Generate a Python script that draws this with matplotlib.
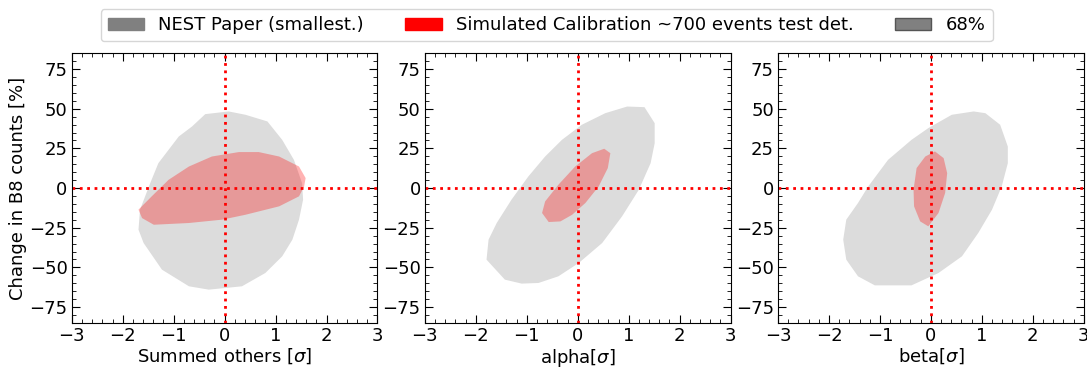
import matplotlib.pyplot as plt
from matplotlib.patches import Patch
from matplotlib.ticker import AutoMinorLocator

XLABELS = ["Summed others [$\\sigma$]", "alpha[$\\sigma$]", "beta[$\\sigma$]"]
YLABEL = "Change in B8 counts [%]"
LEGEND_LABELS = ["NEST Paper (smallest.)", "Simulated Calibration ~700 events test det.", "68%"]

# 68% contours, NEST paper (grey)
nest_x = [
    [-0.38, 0.08, 0.41, 0.84, 1.13, 1.36, 1.52, 1.54, 1.46, 1.33, 1.13, 0.8, 0.34,
     -0.31, -0.7, -1.23, -1.59, -1.69, -1.66, -1.46, -1.3, -0.9, -0.64],
    [0.97, 1.31, 1.51, 1.51, 1.43, 1.2, 0.87, 0.48, 0.02, -0.38, -0.77, -1.1, -1.43,
     -1.79, -1.75, -1.59, -1.3, -0.97, -0.64, -0.31, 0.08, 0.54],
    [0.41, 0.84, 1.07, 1.36, 1.51, 1.51, 1.39, 1.2, 0.93, 0.61, 0.15, -0.38, -1.1,
     -1.43, -1.66, -1.72, -1.66, -1.43, -1.23, -0.84, -0.38, -0.05],
]
nest_y = [
    [46.6, 48.3, 46.2, 42, 30.4, 17.8, 3.1, -7.3, -19.9, -32.5, -43, -53.5, -61.9,
     -64, -61.9, -51.4, -34.6, -26.2, -13.6, 3.1, 15.7, 32.5, 38.8],
    [51.4, 51, 40.9, 28.3, 15.7, -1, -17.8, -34.6, -47.2, -55.6, -59.8, -60.2, -57.7,
     -45.1, -32.5, -22, -7.3, 7.3, 19.9, 30.4, 39.9, 47.2],
    [46.2, 48.3, 47.2, 39.9, 26.2, 15.7, 1, -13.6, -28.3, -43, -53.5, -61.3, -61.3,
     -55.6, -45.1, -32.5, -19.9, -9.4, 1, 17.8, 30.4, 37.8],
]

# 68% contours, simulated calibration (red)
sim_x = [
    [-1.69, -1.43, -1.1, -0.7, -0.25, 0.28, 0.67, 1.07, 1.46, 1.59, 1.56, 1.46, 1.07,
     0.41, -0.05, -0.7, -1.39, -1.62],
    [0.52, 0.64, 0.59, 0.41, 0.15, -0.11, -0.34, -0.57, -0.7, -0.64, -0.38, -0.05, 0.28],
    [0.08, 0.25, 0.32, 0.28, 0.15, -0.05, -0.21, -0.33, -0.34, -0.28, -0.11],
]
sim_y = [
    [-13.6, -5.2, 5.2, 13.6, 19.9, 22.7, 22.7, 19.9, 13.6, 6.3, 1, -5.2, -11.5,
     -16.8, -19.9, -22, -23.1, -18.9],
    [24.8, 22, 12.6, 1, -9.4, -16.8, -21, -21.4, -15.7, -8.4, 2.1, 13.6, 22],
    [23.1, 18.9, 9.4, -3.1, -15.7, -24.1, -21, -11.5, -1, 12.6, 19.9],
]

plt.rcParams["font.size"] = 13

fig, axes = plt.subplots(1, 3, figsize=(10.87, 3.67), dpi=100)
fig.subplots_adjust(left=0.066, right=0.997, bottom=0.12, top=0.855, wspace=0.155)

for i, ax in enumerate(axes):
    ax.fill(nest_x[i], nest_y[i], color="#dcdcdc", lw=0)
    ax.fill(sim_x[i], sim_y[i], color="red", alpha=0.3, lw=0)
    ax.axvline(0, color="red", ls=":", lw=2)
    ax.axhline(0, color="red", ls=":", lw=2)
    ax.set_xlim(-3, 3)
    ax.set_ylim(-85, 85)
    ax.set_xticks([-3, -2, -1, 0, 1, 2, 3])
    ax.set_yticks([-75, -50, -25, 0, 25, 50, 75])
    ax.xaxis.set_minor_locator(AutoMinorLocator(5))
    ax.yaxis.set_minor_locator(AutoMinorLocator(5))
    ax.tick_params(which="both", direction="in", top=True, right=True, labelsize=13)
    ax.tick_params(which="major", length=6, pad=3)
    ax.tick_params(which="minor", length=3)
    ax.set_xlabel(XLABELS[i], fontsize=13, labelpad=1)

axes[0].set_ylabel(YLABEL, fontsize=13, labelpad=2)

handles = [
    Patch(color="gray"),
    Patch(color="red"),
    Patch(facecolor="gray", edgecolor="#555555"),
]
fig.legend(handles, LEGEND_LABELS, loc="upper center", ncol=3,
           bbox_to_anchor=(0.503, 1.0), fontsize=13, handlelength=2.0,
           columnspacing=2.3)

fig.savefig("out.png", dpi=100)
